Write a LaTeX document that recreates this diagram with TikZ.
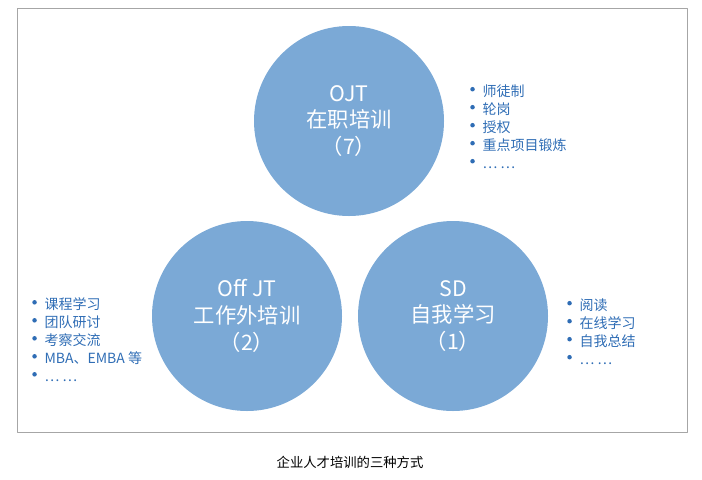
\documentclass[tikz,border=0pt]{standalone}
\usepackage{fontspec}
\setmainfont{Noto Sans CJK SC}
\definecolor{ballblue}{HTML}{7BA9D6}
\definecolor{listblue}{HTML}{2F6DB5}
\tikzset{
  ball/.style={circle, fill=ballblue, minimum size=190*0.75pt, inner sep=0pt,
    text=white, font=\fontsize{16}{20}\selectfont, align=center},
  blist/.style={anchor=north west, text=listblue, font=\fontsize{10.5}{13.5}\selectfont,
    align=left, inner sep=0pt}
}
\newcommand{\dotitem}{\tikz[baseline=-0.5ex]\fill[listblue] (0,0.4ex) circle (1.7pt);\hspace{0.55em}}
\begin{document}
\begin{tikzpicture}[x=0.75pt, y=-0.75pt, line cap=round, line join=round]
\useasboundingbox (0,0) rectangle (702,479);
\draw[gray!70, line width=0.6pt] (17,8) rectangle (687,432);

% three circles
\node[ball] (ojt) at (349,121) {OJT\\在职培训\\（7）};
\node[ball] (offjt) at (247,316) {Off JT\\工作外培训\\（2）};
\node[ball] (sd) at (453,316) {SD\\自我学习\\（1）};

% lists
\node[blist] (ojtlist) at (470,84) {\dotitem 师徒制\\\dotitem 轮岗\\\dotitem 授权\\\dotitem 重点项目锻炼\\\dotitem ⋯ ⋯};
\node[blist] (offlist) at (32,297) {\dotitem 课程学习\\\dotitem 团队研讨\\\dotitem 考察交流\\\dotitem MBA、EMBA 等\\\dotitem ⋯ ⋯};
\node[blist] (sdlist) at (567,298) {\dotitem 阅读\\\dotitem 在线学习\\\dotitem 自我总结\\\dotitem ⋯ ⋯};

\node[font=\fontsize{10}{12}\selectfont] (caption) at (350,462) {企业人才培训的三种方式};
\end{tikzpicture}
\end{document}
